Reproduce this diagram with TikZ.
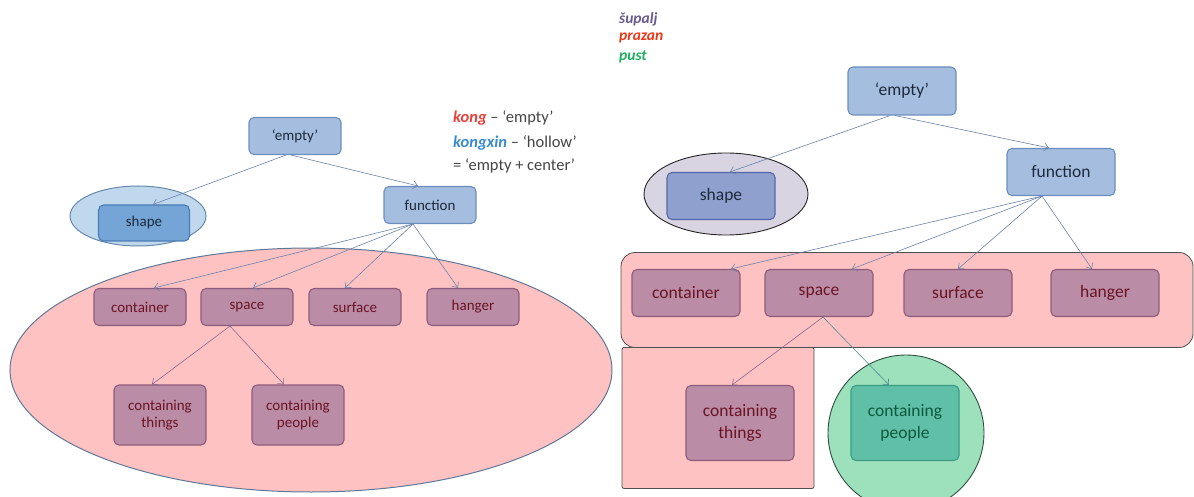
\documentclass[tikz,border=0pt]{standalone}
\usepackage{fontspec}
\setmainfont{Carlito}
\usetikzlibrary{arrows.meta,shapes.geometric}
\definecolor{bfill}{HTML}{A5BEE0}
\definecolor{bdraw}{HTML}{6C8EBF}
\definecolor{btext}{HTML}{1C2A3C}
\definecolor{lshfill}{HTML}{74A5D6}
\definecolor{lshdraw}{HTML}{4A7DB5}
\definecolor{lellfill}{HTML}{C0D8EE}
\definecolor{lelldraw}{HTML}{6688AA}
\definecolor{rshfill}{HTML}{8FA0CE}
\definecolor{rshdraw}{HTML}{5468A8}
\definecolor{rellfill}{HTML}{D8D4E2}
\definecolor{pfill}{HTML}{BB8CA6}
\definecolor{pdraw}{HTML}{8C5C7C}
\definecolor{ptext}{HTML}{6A1424}
\definecolor{pink}{HTML}{FFC2C2}
\definecolor{pinkdrawL}{HTML}{607898}
\definecolor{pinkdrawR}{HTML}{505050}
\definecolor{gcirc}{HTML}{9CE0BC}
\definecolor{gcircdraw}{HTML}{2F4F3F}
\definecolor{gfill}{HTML}{5FBFA7}
\definecolor{gdraw}{HTML}{3C9C84}
\definecolor{gtext}{HTML}{0E5A3E}
\definecolor{acol}{HTML}{6A82AA}
\definecolor{apur}{HTML}{8A6A8C}
\definecolor{ateal}{HTML}{4E8C94}
\definecolor{legred}{HTML}{E8403A}
\definecolor{legblue}{HTML}{3A8AD0}
\definecolor{leggray}{HTML}{444444}
\definecolor{legpurp}{HTML}{6B5A90}
\definecolor{legred2}{HTML}{E83A1A}
\definecolor{leggreen}{HTML}{20B060}
\begin{document}
\begin{tikzpicture}[x=1pt,y=-1pt,
  boxbase/.style={draw, rounded corners=5pt, line width=1.1pt, inner sep=0pt, align=center},
  bluebox/.style={boxbase, fill=bfill, draw=bdraw, text=btext},
  purplebox/.style={boxbase, fill=pfill, draw=pdraw, text=ptext},
  greenbox/.style={boxbase, fill=gfill, draw=gdraw, text=gtext},
  Lsize/.style={minimum width=92pt, minimum height=37pt, font=\fontsize{15}{17.5}\selectfont},
  Rsize/.style={minimum width=108pt, minimum height=47pt, font=\fontsize{17.5}{21.5}\selectfont},
  arr/.style={-{Straight Barb[length=4.5pt,width=8pt]}, line width=0.6pt, draw=acol},
  legend/.style={anchor=west, inner sep=0pt, text=leggray, font=\fontsize{16.5}{19}\selectfont},
  legendR/.style={anchor=west, inner sep=0pt, font=\fontsize{15.5}{18}\selectfont\bfseries\itshape}
]
\useasboundingbox (0,0) rectangle (1194,497);

% ---------- LEFT backgrounds ----------
\node[draw=lelldraw, fill=lellfill, line width=1pt, ellipse, minimum width=136pt, minimum height=60pt, inner sep=0pt] (shellL) at (138,216) {};
\node[draw=pinkdrawL, fill=pink, line width=1pt, ellipse, minimum width=602pt, minimum height=244pt, inner sep=0pt] (bigellL) at (311,370) {};

% ---------- LEFT nodes ----------
\node[bluebox, Lsize] (emL) at (295,136) {‘empty’};
\node[boxbase, fill=lshfill, draw=lshdraw, text=btext, minimum width=91pt, minimum height=36pt, font=\fontsize{15}{17.5}\selectfont] (shL) at (144,223) {shape};
\node[bluebox, Lsize] (fnL) at (430,205) {function};
\node[purplebox, Lsize] (coL) at (140,307) {container};
\node[purplebox, Lsize] (spL) at (247,307) {space};
\node[purplebox, Lsize] (suL) at (355,307) {surface};
\node[purplebox, Lsize] (haL) at (473,307) {hanger};
\node[purplebox, Lsize, minimum height=60pt] (thL) at (160,415) {containing\\things};
\node[purplebox, Lsize, minimum height=60pt] (peL) at (298,415) {containing\\people};

% ---------- LEFT arrows ----------
\draw[arr] ([xshift=-9pt]emL.south) -- ([xshift=9pt]shL.north);
\draw[arr] ([xshift=-4pt]emL.south) -- ([xshift=-12pt]fnL.north);
\draw[arr] ([xshift=-17pt]fnL.south) -- ([xshift=14pt]coL.north);
\draw[arr] ([xshift=-17pt]fnL.south) -- ([xshift=6pt]spL.north);
\draw[arr] ([xshift=-17pt]fnL.south) -- ([xshift=-10pt]suL.north);
\draw[arr] ([xshift=-17pt]fnL.south) -- ([xshift=-15pt]haL.north);
\draw[arr, draw=apur] ([xshift=-17pt]spL.south) -- ([xshift=-8pt]thL.north);
\draw[arr, draw=apur] ([xshift=-17pt]spL.south) -- ([xshift=-14pt]peL.north);

% ---------- LEFT legend ----------
\node[legend] (lg1) at (453,118) {{\color{legred}\bfseries\itshape kong} – ‘empty’};
\node[legend] (lg2) at (453,143) {{\color{legblue}\bfseries\itshape kongxin} – ‘hollow’};
\node[legend] (lg3) at (453,166) {= ‘empty + center’};

% ---------- RIGHT backgrounds ----------
\node[draw=black!85, fill=rellfill, line width=0.9pt, ellipse, minimum width=164pt, minimum height=82pt, inner sep=0pt] (shellR) at (726,194) {};
\node[draw=pinkdrawR, fill=pink, line width=0.8pt, rounded corners=14pt, minimum width=572pt, minimum height=95pt, inner sep=0pt] (rowR) at (907,300) {};
\node[draw=pinkdrawR, fill=pink, line width=0.8pt, rounded corners=2pt, minimum width=192pt, minimum height=141pt, inner sep=0pt] (sqR) at (718,418) {};
\node[draw=gcircdraw, fill=gcirc, line width=0.9pt, circle, minimum size=156pt, inner sep=0pt] (circR) at (906,433) {};

% ---------- RIGHT nodes ----------
\node[bluebox, Rsize, minimum height=48pt] (emR) at (902,91) {‘empty’};
\node[boxbase, fill=rshfill, draw=rshdraw, text=btext, Rsize] (shR) at (721,196) {shape};
\node[bluebox, Rsize] (fnR) at (1061,172) {function};
\node[purplebox, Rsize] (coR) at (686,293) {container};
\node[purplebox, Rsize] (spR) at (819,293) {space};
\node[purplebox, Rsize] (suR) at (958,293) {surface};
\node[purplebox, Rsize] (haR) at (1105,293) {hanger};
\node[purplebox, Rsize, minimum height=75pt] (thR) at (740,423) {containing\\things};
\node[greenbox, Rsize, minimum height=75pt] (peR) at (905,423) {containing\\people};

% ---------- RIGHT arrows ----------
\draw[arr] ([xshift=-12pt]emR.south) -- ([xshift=9pt]shR.north);
\draw[arr] ([xshift=-7pt]emR.south) -- ([xshift=-12pt]fnR.north);
\draw[arr] ([xshift=-19pt]fnR.south) -- ([xshift=45pt]coR.north);
\draw[arr] ([xshift=-19pt]fnR.south) -- ([xshift=33pt]spR.north);
\draw[arr] ([xshift=-19pt]fnR.south) -- (suR.north);
\draw[arr] ([xshift=-19pt]fnR.south) -- ([xshift=-13pt]haR.north);
\draw[arr, draw=apur] ([xshift=4pt]spR.south) -- ([xshift=-8pt]thR.north);
\draw[arr, draw=ateal] ([xshift=4pt]spR.south) -- ([xshift=-16pt]peR.north);

% ---------- RIGHT legend ----------
\node[legendR, text=legpurp] (lr1) at (619,19) {šupalj};
\node[legendR, text=legred2] (lr2) at (619,38) {prazan};
\node[legendR, text=leggreen] (lr3) at (619,57) {pust};
\end{tikzpicture}
\end{document}
